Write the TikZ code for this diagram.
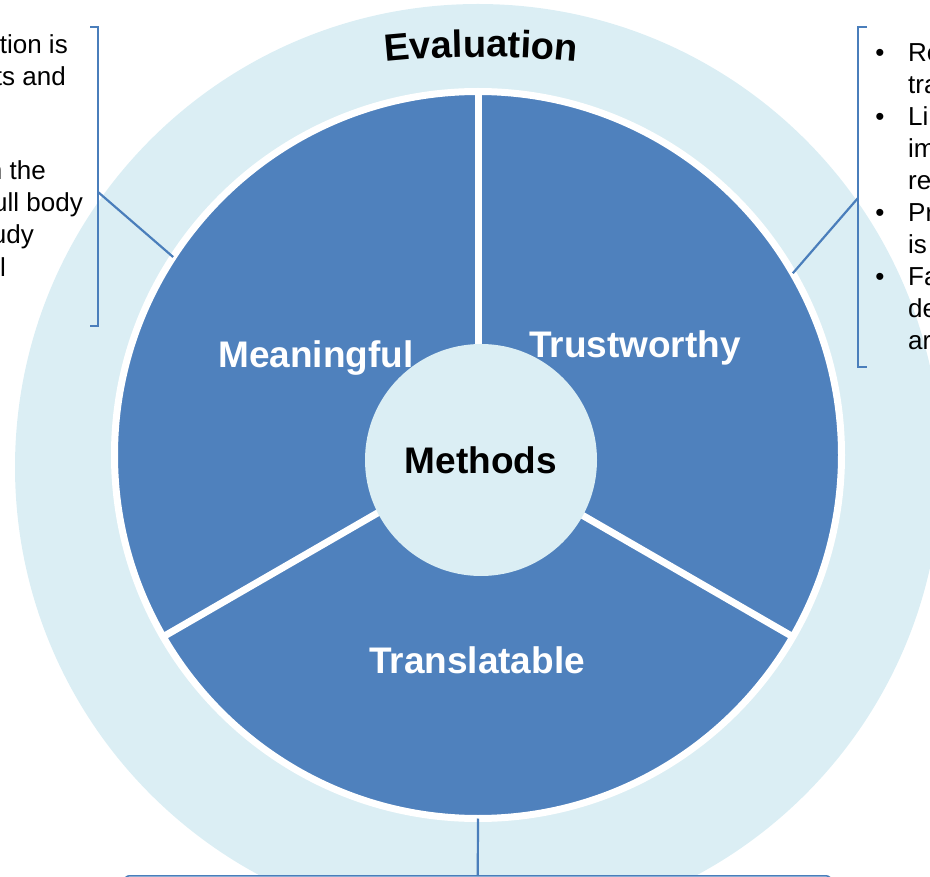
\documentclass[tikz,border=0pt]{standalone}
\usepackage{fontspec}
\setmainfont{Liberation Sans}
\usetikzlibrary{decorations.text}
\definecolor{darkc}{HTML}{4F81BD}
\definecolor{lightc}{HTML}{DBEEF4}
\definecolor{linec}{HTML}{4A7EBB}
\begin{document}
\begin{tikzpicture}[x=1pt,y=-1pt,
  lbl/.style={font=\fontsize{37}{40}\selectfont\bfseries, text=white, inner sep=0},
  side/.style={font=\fontsize{26}{30}\selectfont, inner sep=0},
  callout/.style={draw=linec, line width=2.2pt},
  sep/.style={draw=white, line width=7pt}
]
\useasboundingbox (0,0) rectangle (930,877);
\clip (0,0) rectangle (930,877);
% rings
\node[circle, fill=lightc, minimum size=926pt, inner sep=0, outer sep=0] (outer) at (478,467) {};
\node[circle, fill=darkc, draw=white, line width=7pt, minimum size=727pt, inner sep=0, outer sep=0] (dark) at (478,455) {};
\draw[sep] (dark.center) -- (dark.90);
\draw[sep] (dark.center) -- (dark.210);
\draw[sep] (dark.center) -- (dark.330);
\node[circle, fill=lightc, minimum size=232pt, inner sep=0, font=\fontsize{37}{40}\selectfont\bfseries] (methods) at (481,460) {Methods};
% sector labels
\node[lbl, anchor=base] (meaningful) at (316,368) {Meaningful};
\node[lbl, anchor=base] (trust) at (635,358) {Trustworthy};
\node[lbl, anchor=base] (transl) at (477,673) {Translatable};
% arched title
\path[decorate, decoration={text along path, text align=center,
  text={|\fontsize{38}{40}\selectfont\bfseries|Evaluation}}]
  (320.6,71) .. controls (426.8,52.3) and (535.2,52.3) .. (641.4,71);
% left callout
\coordinate (lb) at (98,192);
\draw[callout] (90,27) -- (98,27) -- (98,326) -- (90,326);
\draw[callout] (lb) -- (dark.147);
% right callout
\coordinate (rb) at (858,198);
\draw[callout] (867,27) -- (858,27) -- (858,367) -- (867,367);
\draw[callout] (rb) -- (dark.30);
% bottom box
\node[draw=linec, line width=1.5pt, fill=white, rounded corners=6pt, minimum width=708pt, minimum height=60pt, anchor=north west, inner sep=0] (box) at (123,875) {};
\draw[callout] (dark.270) -- (box.north);
% left text fragments
\node[side, anchor=base east] (l1) at (68,54) {tion is};
\node[side, anchor=base east] (l2) at (66,86) {ts and};
\node[side, anchor=base east] (l3) at (46,180) {n the};
\node[side, anchor=base east] (l4) at (83,212) {ull body};
\node[side, anchor=base east] (l5) at (34,244) {udy};
\node[side, anchor=base east] (l6) at (6,277) {l};
% right text fragments
\node[side, anchor=base] (b1) at (880,62) {•};
\node[side, anchor=base] (b2) at (880,126) {•};
\node[side, anchor=base] (b3) at (880,222) {•};
\node[side, anchor=base] (b4) at (880,286) {•};
\node[side, anchor=base west] (r1) at (908,62) {Re};
\node[side, anchor=base west] (r2) at (908,94) {tra};
\node[side, anchor=base west] (r3) at (908,126) {Li};
\node[side, anchor=base west] (r4) at (908,158) {im};
\node[side, anchor=base west] (r5) at (908,190) {re};
\node[side, anchor=base west] (r6) at (908,222) {Pr};
\node[side, anchor=base west] (r7) at (908,254) {is};
\node[side, anchor=base west] (r8) at (908,286) {Fa};
\node[side, anchor=base west] (r9) at (908,318) {de};
\node[side, anchor=base west] (r10) at (908,350) {ar};
\end{tikzpicture}
\end{document}
